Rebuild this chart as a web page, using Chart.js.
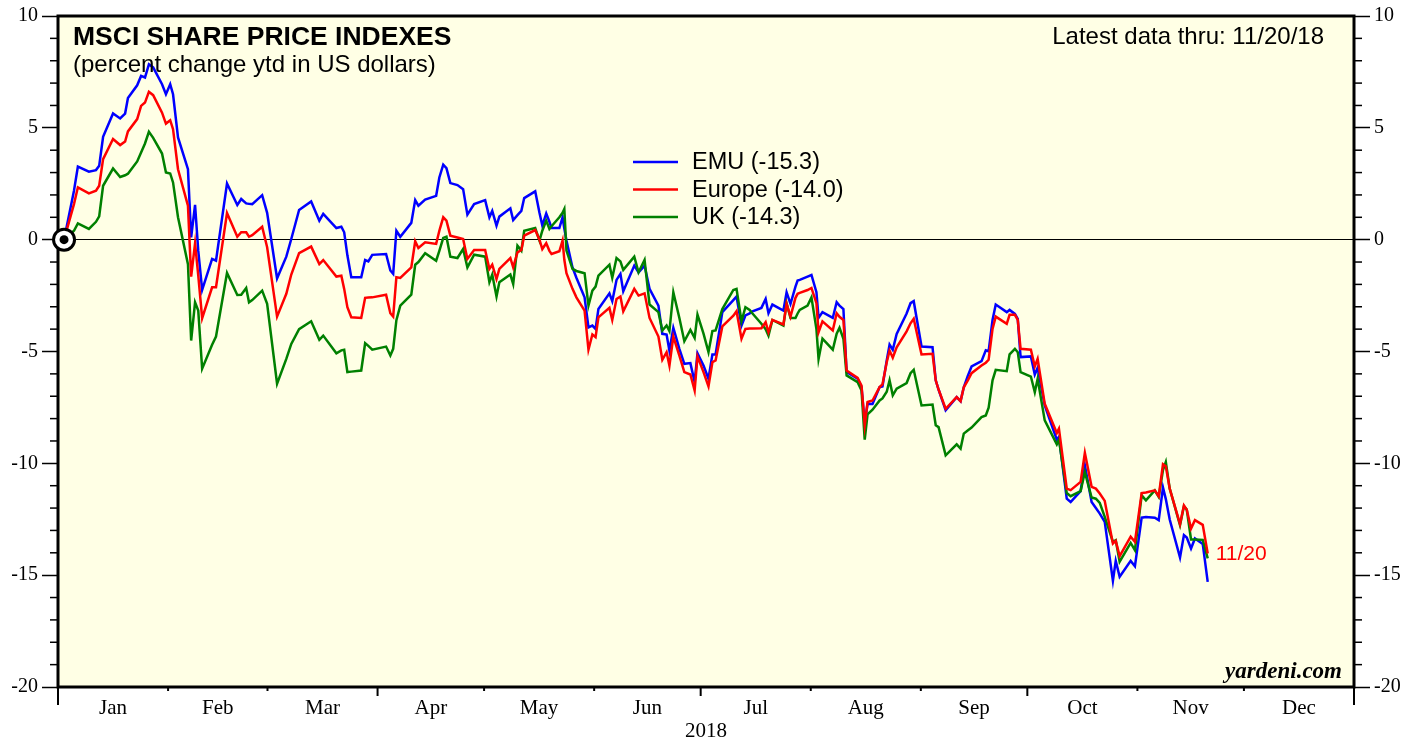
<!DOCTYPE html>
<html lang="en">
<head>
<meta charset="UTF-8">
<title>MSCI Share Price Indexes</title>
<script src="https://cdn.jsdelivr.net/npm/chart.js@4.4.1/dist/chart.umd.min.js"></script>
<style>
    html, body { margin: 0; padding: 0; background: #fff; }
    #wrap { width: 1419px; height: 744px; }
</style>
</head>
<body>
<div id="wrap"><canvas id="chart" width="1419" height="744"></canvas></div>
<script>
    // trading days as day of year (0 = Jan 1, 2018)
    const days = [
        1.7, 4.5, 5.6, 8.7, 10.7, 11.6, 12.7, 15.5, 17.5, 18.9, 19.7, 22.3, 23.4, 24.5, 25.6, 26.8, 29.3, 30.4, 31.6, 32.4,
        33.8, 36.6, 37.5, 38.6, 39.5, 40.6, 43.4, 44.5, 47.6, 50.5, 51.6, 53.0, 53.8, 54.7, 57.5, 58.9, 61.7, 64.3, 65.7, 67.9,
        71.3, 73.6, 74.7,
        78.4, 79.8, 80.6, 81.5, 82.6, 85.4, 86.5, 87.4, 88.5, 92.4, 93.6, 94.4, 95.3, 96.4, 99.5, 100.6, 101.5, 103.4, 106.5, 107.4,
        108.5, 109.4, 110.5, 112.5, 114.1, 115.3, 117.2, 120.3, 121.5, 122.3, 123.5, 124.3, 127.4, 128.2, 129.4, 130.5, 131.3, 134.4, 135.6, 136.4,
        137.5, 138.4, 139.0, 141.2, 142.1, 142.6, 143.2, 144.9, 146.0, 148.3, 149.4, 150.5, 151.4, 152.2,
        155.3, 156.1, 157.3, 158.4, 159.2, 162.3, 163.5, 165.2, 166.6, 169.1, 170.2, 171.4, 172.2, 173.3, 175.0, 176.4, 178.1, 179.3, 180.1, 181.8,
        183.2, 184.3, 185.2, 187.1, 190.2, 191.1, 192.5, 193.6, 194.8, 195.6, 198.1, 199.3, 200.1, 201.2, 204.3, 205.2, 206.3, 207.7, 208.3, 208.9,
        211.1, 212.2, 213.6, 214.2, 215.3, 218.2, 219.3, 220.1, 221.2, 222.1, 225.2, 226.3, 227.2, 228.0, 229.4, 231.4,
        232.2, 233.4, 234.2, 235.1, 236.2, 239.0, 240.1, 241.0, 243.2, 246.3, 247.2, 248.0, 250.0, 253.1, 254.2, 255.1, 256.2, 257.3, 260.1, 261.3,
        262.1, 263.2, 264.1, 267.2, 268.0, 269.5, 270.3, 271.1, 274.0, 275.1, 275.9, 277.9, 281.3, 281.9, 284.1, 285.2, 288.0, 289.2, 291.1, 292.3,
        293.4,
        294.8, 297.1, 297.9, 299.0, 302.1, 303.3, 305.2, 306.4, 308.9, 310.0, 311.2, 312.0, 313.1, 316.0, 317.1, 317.9, 319.1, 320.2, 322.4, 323.8
    ];

    const emu = [
        0, 2.19, 3.27, 3.04, 3.11, 3.3, 4.6, 5.64, 5.42, 5.64, 6.33, 6.9, 7.32, 7.25, 7.84, 7.7, 6.95, 6.5, 6.95, 6.5,
        4.57, 3.15, 0.1, 1.56, -0.49, -2.25, -0.86, -0.94, 2.51, 1.55, 1.82, 1.62, 1.6, 1.59, 1.99, 1.2, -1.73, -0.76, 0.03, 1.33,
        1.71, 0.85, 1.15,
        0.52, 0.58, 0.33, -0.7, -1.68, -1.68, -0.91, -0.97, -0.68, -0.64, -1.38, -1.53, 0.4, 0.13, 0.75, 1.77, 1.52, 1.79, 1.96, 2.78,
        3.35, 3.2, 2.53, 2.44, 2.26, 1.12, 1.59, 1.77, 1.0, 1.29, 0.63, 1.03, 1.4, 0.88, 1.1, 1.29, 1.86, 2.16, 1.2, 0.63,
        1.17, 0.8, 0.52, 0.52, 1.0, 0.5, -0.04, -1.24, -1.7, -2.58, -3.92, -3.84, -3.99, -3.1,
        -2.4, -2.75, -1.8, -1.53, -2.31, -1.16, -1.46, -1.16, -2.2, -2.95, -4.21, -4.24, -4.96, -3.94, -4.88, -5.55, -5.52, -6.37, -5.08, -5.63,
        -6.22, -5.13, -5.13, -3.24, -2.7, -2.54, -3.84, -3.39, -3.3, -3.2, -3.05, -2.65, -3.29, -2.9, -3.17, -2.35, -2.87, -2.1, -1.83, -1.8,
        -1.65, -1.58, -2.35, -3.5, -3.24, -3.5, -2.8, -2.95, -3.1, -5.92, -6.22, -6.59, -8.23, -7.34, -7.35, -6.59,
        -6.56, -5.4, -4.69, -4.92, -4.21, -3.3, -2.84, -2.75, -4.78, -4.81, -6.29, -6.7, -7.63, -7.04, -7.22, -6.6, -6.1, -5.67, -5.43, -4.95,
        -4.99, -3.59, -2.9, -3.24, -3.14, -3.32, -3.54, -5.25, -5.22, -6.03, -5.73, -7.41, -8.94, -8.82, -11.58, -11.73, -11.24, -10.09, -11.73, -12.0,
        -12.25,
        -12.62, -15.25, -14.36, -15.07, -14.36, -14.6, -12.43, -12.4, -12.43, -12.54, -11.08, -11.6, -12.51, -14.21, -13.21, -13.32, -13.81, -13.36, -13.6, -15.3
    ];

    const europe = [
        0, 1.59, 2.34, 2.07, 2.19, 2.41, 3.6, 4.5, 4.23, 4.39, 4.84, 5.39, 5.98, 6.13, 6.61, 6.46, 5.68, 5.19, 5.34, 4.94,
        3.15, 1.52, -1.65, -0.16, -1.6, -3.51, -2.13, -2.13, 1.19, 0.13, 0.33, 0.33, 0.13, 0.2, 0.58, -0.34, -3.44, -2.42, -1.56, -0.6,
        -0.31, -1.09, -0.91,
        -1.65, -1.61, -2.2, -3.02, -3.47, -3.5, -2.6, -2.59, -2.58, -2.46, -3.29, -3.44, -1.68, -1.71, -1.24, -0.07, -0.37, -0.12, -0.19, 0.4,
        1.0, 0.85, 0.18, 0.1, 0.03, -0.86, -0.46, -0.46, -1.31, -1.12, -1.76, -1.31, -0.82, -1.24, -0.57, -0.46, 0.18, 0.43, 0.0, -0.42,
        -0.16, -0.5, -0.64, -0.52, -0.04, -0.9, -1.5, -2.2, -2.58, -3.17, -4.92, -4.24, -4.36, -3.47,
        -3.05, -3.59, -2.65, -2.54, -3.2, -2.2, -2.5, -2.4, -3.5, -4.33, -5.37, -5.03, -5.63, -4.33, -5.18, -5.92, -6.03, -6.74, -5.22, -5.92,
        -6.56, -5.48, -5.4, -3.88, -3.4, -3.2, -4.43, -3.99, -3.97, -3.97, -3.96, -3.69, -4.14, -3.59, -3.79, -2.87, -3.44, -2.6, -2.42, -2.38,
        -2.25, -2.16, -2.84, -4.14, -3.65, -4.06, -3.29, -3.45, -3.59, -5.85, -6.18, -6.52, -8.3, -7.26, -7.19, -6.59,
        -6.47, -5.48, -4.96, -5.28, -4.81, -4.1, -3.74, -3.54, -5.13, -5.1, -6.29, -6.7, -7.56, -7.04, -7.22, -6.6, -6.3, -5.97, -5.63, -5.5,
        -5.37, -3.99, -3.44, -3.76, -3.36, -3.36, -3.59, -4.88, -4.92, -5.67, -5.33, -7.34, -8.64, -8.45, -11.13, -11.2, -10.83, -9.53, -11.05, -11.13,
        -11.35,
        -11.68, -13.59, -13.47, -14.15, -13.28, -13.51, -11.33, -11.3, -11.21, -11.47, -10.04, -10.13, -11.13, -12.72, -11.88, -12.07, -12.92, -12.54, -12.75, -14.03
    ];

    const uk = [
        0, 0.4, 0.73, 0.48, 0.8, 1.04, 2.41, 3.18, 2.8, 2.88, 2.95, 3.5, 3.9, 4.3, 4.82, 4.55, 3.85, 3.0, 2.96, 2.56,
        1.0, -1.1, -4.51, -2.8, -3.17, -5.77, -4.7, -4.33, -1.49, -2.47, -2.46, -2.16, -2.8, -2.7, -2.28, -2.87, -6.44, -5.33, -4.66, -4.0,
        -3.65, -4.48, -4.29,
        -5.08, -4.95, -4.92, -5.92, -5.9, -5.85, -4.63, -4.75, -4.92, -4.78, -5.18, -4.88, -3.6, -2.95, -2.46, -1.12, -1.0, -0.61, -0.94, -0.5,
        0.08, 0.13, -0.76, -0.82, -0.42, -1.24, -0.67, -0.76, -1.9, -1.56, -2.54, -1.9, -1.56, -1.98, -0.27, -0.49, 0.4, 0.52, -0.04, 0.4,
        0.85, 0.48, 0.6, 1.0, 1.2, 1.37, -0.49, -1.31, -1.4, -1.5, -2.95, -2.28, -2.1, -1.61,
        -1.12, -1.71, -0.82, -0.97, -1.35, -0.76, -1.46, -0.91, -2.9, -3.24, -4.06, -3.84, -4.09, -2.35, -3.5, -4.54, -4.03, -4.39, -3.35, -4.2,
        -5.03, -4.09, -4.06, -3.1, -2.25, -2.2, -3.65, -3.02, -3.14, -3.3, -3.76, -4.0, -4.29, -3.59, -3.84, -2.84, -3.5, -3.5, -3.3, -3.14,
        -2.95, -2.58, -4.0, -5.33, -4.43, -4.92, -4.2, -3.94, -4.43, -6.07, -6.37, -6.74, -8.94, -7.81, -7.6, -7.19,
        -7.1, -6.8, -6.29, -6.96, -6.66, -6.41, -5.97, -5.82, -7.41, -7.37, -8.3, -8.38, -9.64, -9.15, -9.34, -8.67, -8.53, -8.4, -7.93, -7.86,
        -7.51, -6.29, -5.82, -5.88, -5.13, -4.88, -5.03, -5.92, -6.12, -6.82, -6.22, -8.08, -9.15, -8.94, -11.33, -11.47, -11.24, -10.39, -11.53, -11.58,
        -11.77,
        -12.39, -13.51, -13.44, -14.4, -13.56, -13.88, -11.43, -11.65, -11.21, -11.5, -10.3, -9.94, -11.13, -12.77, -11.92, -12.07, -13.4, -13.4, -13.42, -14.25
    ];

    const seriesNames = ['EMU (-15.3)', 'Europe (-14.0)', 'UK (-14.3)'];
    const seriesColors = ['#0000ff', '#ff0000', '#008000'];
    const monthNames = ['Jan', 'Feb', 'Mar', 'Apr', 'May', 'Jun', 'Jul', 'Aug', 'Sep', 'Oct', 'Nov', 'Dec'];
    const monthStarts = [0, 31, 59, 90, 120, 151, 181, 212, 243, 273, 304, 334, 365];
    const lastLabel = '11/20';

    const SANS = '"Liberation Sans", Arial, Helvetica, sans-serif';
    const SERIF = '"Liberation Serif", "Times New Roman", serif';
    const monthMids = monthNames.map((m, i) => (monthStarts[i] + monthStarts[i + 1]) / 2);

    function line(ctx, x1, y1, x2, y2) {
        ctx.beginPath();
        ctx.moveTo(x1, y1);
        ctx.lineTo(x2, y2);
        ctx.stroke();
    }

    const decor = {
        id: 'decor',
        beforeDraw(chart) {
            const { ctx, chartArea: a } = chart;
            ctx.save();
            ctx.fillStyle = '#ffffe5';
            ctx.fillRect(a.left, a.top, a.right - a.left, a.bottom - a.top);
            ctx.restore();
        },
        beforeDatasetsDraw(chart) {
            const { ctx, chartArea: a, scales } = chart;
            ctx.save();
            ctx.strokeStyle = '#000';
            ctx.lineWidth = 3;
            ctx.strokeRect(a.left, a.top, a.right - a.left, a.bottom - a.top);
            // minor y ticks, both sides
            ctx.lineWidth = 1.5;
            for (let v = -20; v <= 10; v++) {
                if (v % 5 === 0) continue;
                const py = scales.y.getPixelForValue(v);
                line(ctx, a.left - 8, py, a.left, py);
                line(ctx, a.right, py, a.right + 8, py);
            }
            // month boundary ticks
            ctx.lineWidth = 2;
            monthStarts.forEach((d, i) => {
                const px = scales.x.getPixelForValue(d);
                const len = (i === 0 || i === 12) ? 18 : (i % 3 === 0 ? 9 : 4);
                line(ctx, px, a.bottom, px, a.bottom + len);
            });
            ctx.restore();
        },
        afterDraw(chart) {
            const { ctx, chartArea: a, scales } = chart;
            ctx.save();
            ctx.fillStyle = '#000';
            ctx.textBaseline = 'alphabetic';
            ctx.textAlign = 'left';
            ctx.font = 'bold 26.5px ' + SANS;
            ctx.fillText('MSCI SHARE PRICE INDEXES', a.left + 15, a.top + 29);
            ctx.font = '24px ' + SANS;
            ctx.fillText('(percent change ytd in US dollars)', a.left + 15, a.top + 56);
            ctx.textAlign = 'right';
            ctx.fillText('Latest data thru: 11/20/18', a.right - 30, a.top + 28);

            // legend
            ctx.font = '23.5px ' + SANS;
            ctx.textAlign = 'left';
            ctx.textBaseline = 'middle';
            chart.data.datasets.slice(0, 3).forEach((ds, i) => {
                const py = a.top + 146 + i * 27.5;
                ctx.strokeStyle = ds.borderColor;
                ctx.lineWidth = 2.5;
                line(ctx, a.left + 575, py, a.left + 620, py);
                ctx.fillStyle = '#000';
                ctx.fillText(ds.label, a.left + 634, py + 1);
            });

            // last-date label by the Europe series
            const n = days.length - 1;
            ctx.fillStyle = '#ff0000';
            ctx.font = '21px ' + SANS;
            ctx.fillText(lastLabel, scales.x.getPixelForValue(days[n]) + 8, scales.y.getPixelForValue(europe[n]) + 1);

            ctx.fillStyle = '#000';
            ctx.textAlign = 'right';
            ctx.textBaseline = 'alphabetic';
            ctx.font = 'italic bold 23px ' + SERIF;
            ctx.fillText('yardeni.com', a.right - 12, a.bottom - 9);
            ctx.restore();
        }
    };

    const pts = arr => days.map((d, i) => ({ x: d, y: arr[i] }));

    new Chart(document.getElementById('chart'), {
        type: 'line',
        data: {
            datasets: [
                { label: seriesNames[0], data: pts(emu), borderColor: seriesColors[0], order: 3 },
                { label: seriesNames[1], data: pts(europe), borderColor: seriesColors[1], order: 1 },
                { label: seriesNames[2], data: pts(uk), borderColor: seriesColors[2], order: 2 },
                {
                    type: 'scatter', data: [{ x: days[0], y: emu[0] }], clip: false, order: -2,
                    pointRadius: 10.5, pointBackgroundColor: '#fff', pointBorderColor: '#000', pointBorderWidth: 3
                },
                {
                    type: 'scatter', data: [{ x: days[0], y: emu[0] }], clip: false, order: -3,
                    pointRadius: 4.5, pointBackgroundColor: '#000', pointBorderWidth: 0
                }
            ]
        },
        options: {
            responsive: false,
            animation: false,
            events: [],
            layout: { padding: { top: 15, left: 0, right: 0, bottom: 0 } },
            elements: {
                line: { borderWidth: 2.5, tension: 0, fill: false },
                point: { radius: 0 }
            },
            plugins: {
                legend: { display: false },
                tooltip: { enabled: false }
            },
            scales: {
                x: {
                    type: 'linear', min: 0, max: 365, position: 'bottom',
                    afterBuildTicks: s => { s.ticks = monthMids.map(v => ({ value: v })); },
                    afterFit: s => { s.height = 57; },
                    ticks: {
                        autoSkip: false, maxRotation: 0, padding: 9, color: '#000',
                        font: { family: SERIF, size: 21 },
                        callback: (v, i) => monthNames[i]
                    },
                    grid: { display: false, drawTicks: false },
                    border: { display: false },
                    title: { display: true, text: '2018', color: '#000', font: { family: SERIF, size: 21 }, padding: { top: 0, bottom: 0 } }
                },
                y: {
                    type: 'linear', position: 'left', min: -20, max: 10,
                    afterFit: s => { s.width = 58; },
                    ticks: { stepSize: 5, padding: 4, color: '#000', font: { family: SERIF, size: 20 } },
                    grid: {
                        color: c => (c.tick && c.tick.value === 0) ? '#000' : 'rgba(0,0,0,0)',
                        lineWidth: 1, tickColor: '#000', tickLength: 16, tickWidth: 1.5
                    },
                    border: { display: false }
                },
                y2: {
                    type: 'linear', position: 'right', min: -20, max: 10,
                    afterFit: s => { s.width = 65; },
                    ticks: { stepSize: 5, padding: 4, color: '#000', font: { family: SERIF, size: 20 } },
                    grid: { drawOnChartArea: false, tickColor: '#000', tickLength: 16, tickWidth: 1.5 },
                    border: { display: false }
                }
            }
        },
        plugins: [decor]
    });
</script>
</body>
</html>
